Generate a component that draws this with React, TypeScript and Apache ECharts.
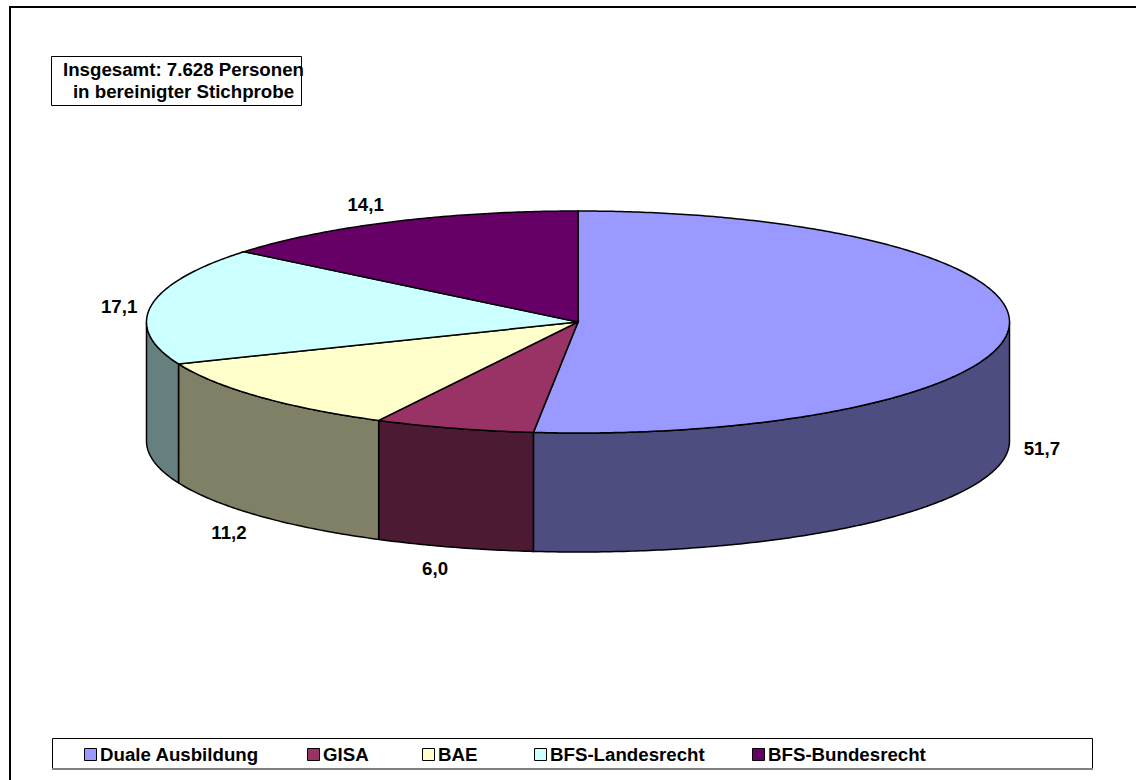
import React, { useEffect, useRef } from "react";
import * as echarts from "echarts";

const categories = ["Duale Ausbildung", "GISA", "BAE", "BFS-Landesrecht", "BFS-Bundesrecht"];
const shares = [51.7, 6.0, 11.2, 17.1, 14.1];
const shareLabels = ["51,7", "6,0", "11,2", "17,1", "14,1"];
const topColors = ["#9999FF", "#993366", "#FFFFCC", "#CCFFFF", "#660066"];
const sideColors = ["#4D4D80", "#4D1A33", "#808066", "#668080", "#330033"];
const noteLines = ["Insgesamt: 7.628 Personen", "in bereinigter Stichprobe"];

const CX = 578, CY = 322, RX = 431.5, RY = 111, DEPTH = 119;
const labelOffsets = [-1, -9, -5, 1.5, -13];
const labelY = [448, 568, 532, 306, 204];
const legendLeft = [84, 307, 422, 534, 752];
const TOTAL = shares.reduce((a, b) => a + b, 0);
const FONT = '"Liberation Sans", Arial, sans-serif';
const FONT_SIZE = 18.7;

const pt = (a: number, dy = 0): number[] => [CX + RX * Math.sin(a), CY - RY * Math.cos(a) + dy];

function arcPoints(a0: number, a1: number, dy = 0): number[][] {
  const steps = Math.max(2, Math.ceil(Math.abs(a1 - a0) / 0.01));
  const out: number[][] = [];
  for (let i = 0; i <= steps; i++) out.push(pt(a0 + ((a1 - a0) * i) / steps, dy));
  return out;
}

function makeRender(index: number) {
  return (_params: any, api: any) => {
    const value = api.value(0);
    const before = shares.slice(0, index).reduce((a, b) => a + b, 0);
    const a0 = (before / TOTAL) * Math.PI * 2;
    const a1 = a0 + (value / TOTAL) * Math.PI * 2;
    const children: any[] = [];
    const lineStyle = { stroke: "#000", lineWidth: 1.5 };
    // visible side wall: the part of the rim in the lower half of the ellipse
    const s0 = Math.max(a0, Math.PI / 2);
    const s1 = Math.min(a1, (Math.PI * 3) / 2);
    if (s1 > s0) {
      const points = [...arcPoints(s0, s1), ...arcPoints(s1, s0, DEPTH)];
      children.push({ type: "polygon", shape: { points }, style: { fill: sideColors[index], ...lineStyle } });
    }
    children.push({
      type: "polygon",
      shape: { points: [[CX, CY], ...arcPoints(a0, a1)] },
      style: { fill: topColors[index], ...lineStyle },
    });
    const mid = (a0 + a1) / 2;
    children.push({
      type: "text",
      x: CX + (RX + 34) * Math.sin(mid) + labelOffsets[index],
      y: labelY[index],
      style: {
        text: shareLabels[index],
        fontFamily: FONT,
        fontWeight: "bold",
        fontSize: FONT_SIZE,
        fill: "#000",
        align: "center",
        verticalAlign: "middle",
      },
    });
    return { type: "group", children };
  };
}

export default function App() {
  const ref = useRef<HTMLDivElement>(null);
  useEffect(() => {
    document.body.style.margin = "0";
    const chart = echarts.init(ref.current!, undefined, { renderer: "svg" });
    chart.setOption({
      animation: false,
      backgroundColor: "#fff",
      legend: categories.map((name, i) => ({
        data: [name],
        left: legendLeft[i],
        top: 745,
        padding: 0,
        itemWidth: 12,
        itemHeight: 12,
        itemGap: 0,
        icon: "rect",
        selectedMode: false,
        itemStyle: { borderColor: "#000", borderWidth: 1 },
        textStyle: { fontFamily: FONT, fontWeight: "bold", fontSize: FONT_SIZE, color: "#000", padding: [0, 0, 0, -1.5] },
      })),
      graphic: [
        { type: "rect", silent: true, z: -1, shape: { x: 10, y: 7, width: 1140, height: 790 }, style: { fill: "#fff", stroke: "#000", lineWidth: 2 } },
        { type: "rect", silent: true, z: 0, shape: { x: 51.5, y: 56.5, width: 250, height: 49 }, style: { fill: "#fff", stroke: "#000", lineWidth: 1 } },
        { type: "text", z: 1, x: 183.5, y: 69, style: { text: noteLines[0], fontFamily: FONT, fontWeight: "bold", fontSize: FONT_SIZE, fill: "#000", align: "center", verticalAlign: "middle" } },
        { type: "text", z: 1, x: 183.5, y: 91, style: { text: noteLines[1], fontFamily: FONT, fontWeight: "bold", fontSize: FONT_SIZE, fill: "#000", align: "center", verticalAlign: "middle" } },
        { type: "rect", silent: true, z: 0, shape: { x: 52.5, y: 738.5, width: 1040, height: 30 }, style: { fill: "#fff", stroke: "#000", lineWidth: 1 } },
        { type: "line", silent: true, z: 1, shape: { x1: 52, y1: 769, x2: 1093, y2: 769 }, style: { stroke: "#808080", lineWidth: 2 } },
      ],
      series: categories.map((name, i) => ({
        type: "custom",
        name,
        coordinateSystem: "none",
        itemStyle: { color: topColors[i] },
        data: [[shares[i]]],
        renderItem: makeRender(i),
      })),
    });
    return () => chart.dispose();
  }, []);
  return <div ref={ref} style={{ width: 1136, height: 780 }} />;
}
